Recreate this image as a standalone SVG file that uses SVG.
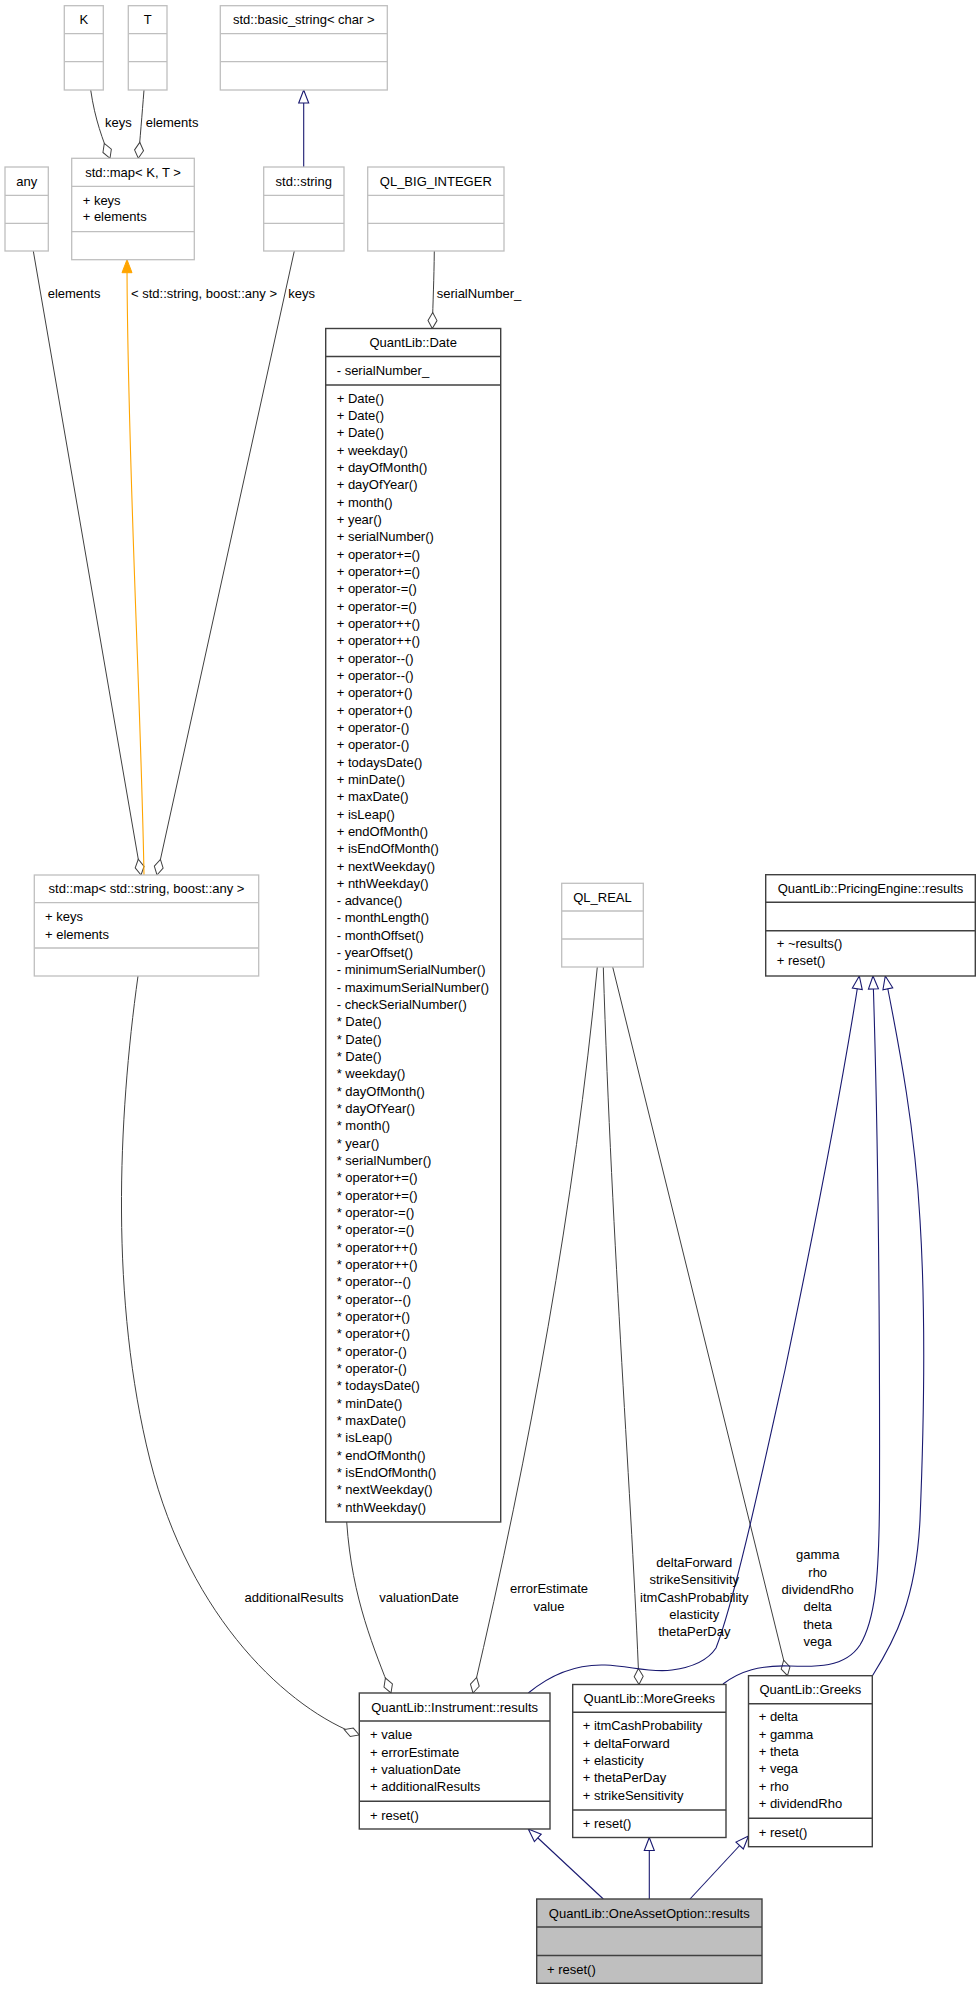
<svg xmlns="http://www.w3.org/2000/svg" width="980" height="1989" viewBox="0 0 980 1989">
  <style>
    text { font-family: "Liberation Sans", Arial, sans-serif; font-size: 13px; fill: #000; }
    .c { text-anchor: middle; }
    .ext rect { fill: #fff; stroke: #bfbfbf; stroke-width: 1.3; }
    .ext line { stroke: #bfbfbf; stroke-width: 1.3; }
    .ql rect { fill: #fff; stroke: #404040; stroke-width: 1.4; }
    .ql line { stroke: #404040; stroke-width: 1.4; }
    .ql.cur rect { fill: #bfbfbf; }
    .use { fill: none; stroke: #404040; stroke-width: 1; marker-end: url(#diamond); }
    .inh { fill: none; stroke: #191970; stroke-width: 1.1; marker-end: url(#hollow); }
    .tpl { fill: none; stroke: #ffa500; stroke-width: 1.1; marker-end: url(#filled); }
  </style>
  <defs>
    <marker id="hollow" markerUnits="userSpaceOnUse" markerWidth="16" markerHeight="14" viewBox="-14 -7 16 14" refX="0" refY="0" orient="auto">
      <path d="M0,0 L-13,-5 L-13,5 Z" fill="#fff" stroke="#191970" stroke-width="1.1"/>
    </marker>
    <marker id="filled" markerUnits="userSpaceOnUse" markerWidth="16" markerHeight="14" viewBox="-14 -7 16 14" refX="0" refY="0" orient="auto">
      <path d="M0,0 L-13,-5 L-13,5 Z" fill="#ffa500" stroke="#ffa500" stroke-width="1"/>
    </marker>
    <marker id="diamond" markerUnits="userSpaceOnUse" markerWidth="20" markerHeight="12" viewBox="-18 -6 20 12" refX="0" refY="0" orient="auto">
      <path d="M0,0 L-8,-4.5 L-16,0 L-8,4.5 Z" fill="#fff" stroke="#404040" stroke-width="1"/>
    </marker>
  </defs>

  <rect x="0" y="0" width="980" height="1989" fill="#fff"/>

  <!-- connectors -->
  <g id="edges">
    <path class="use" d="M90.7,90 C95,120 103,140 110,158.3"/>
    <path class="use" d="M144,90 C142,115 140,140 138.3,158.3"/>
    <path class="inh" d="M303.7,167 L303.7,90"/>
    <path class="use" d="M33.3,251 L141,875"/>
    <path class="tpl" d="M144,875 C141,700 127,450 127,259.7"/>
    <path class="use" d="M294.3,251 L157,875"/>
    <path class="use" d="M434.3,251 C434,280 433,300 432.3,328.5"/>
    <path class="use" d="M138,976 C118,1120 110,1300 150,1460 C190,1620 290,1710 359.3,1735"/>
    <path class="use" d="M346.7,1522 C352,1600 375,1650 391,1693"/>
    <path class="use" d="M597.3,967 C575,1200 530,1450 473,1693"/>
    <path class="use" d="M603.3,967 C612,1250 632,1500 639,1684.5"/>
    <path class="use" d="M612.7,967 L787.5,1675.7"/>
    <path class="inh" d="M528.3,1693 C550,1675 575,1664 605,1665 C630,1666 650,1673 672,1670 C695,1667 708,1660 716,1648 C735,1600 765,1460 785,1370 C810,1250 840,1100 859.3,976"/>
    <path class="inh" d="M723,1684 C740,1671 760,1665 790,1666 C815,1667 845,1668 860,1645 C875,1620 879,1580 879.5,1500 C880,1300 877,1100 873,976"/>
    <path class="inh" d="M872.3,1676 C895,1640 916,1600 920,1520 C925,1400 925,1300 920,1220 C915,1130 900,1050 885.3,976"/>
    <path class="inh" d="M603.3,1899 L528.3,1829"/>
    <path class="inh" d="M649.3,1899 L649.3,1837.5"/>
    <path class="inh" d="M690,1899 L748.5,1836"/>

    <text x="105" y="127.3">keys</text>
    <text x="145.7" y="127.3">elements</text>
    <text x="47.7" y="297.9">elements</text>
    <text x="131" y="297.9">&lt; std::string, boost::any &gt;</text>
    <text x="288.3" y="297.9">keys</text>
    <text x="436.7" y="297.9">serialNumber_</text>
    <text class="c" x="294" y="1601.9">additionalResults</text>
    <text class="c" x="419" y="1601.9">valuationDate</text>
    <text class="c" x="549" y="1592.9">errorEstimate</text>
    <text class="c" x="549" y="1610.9">value</text>
    <text class="c" x="694.3" y="1566.9">deltaForward</text>
    <text class="c" x="694.3" y="1584.3">strikeSensitivity</text>
    <text class="c" x="694.3" y="1601.6">itmCashProbability</text>
    <text class="c" x="694.3" y="1619">elasticity</text>
    <text class="c" x="694.3" y="1636.3">thetaPerDay</text>
    <text class="c" x="817.7" y="1559.3">gamma</text>
    <text class="c" x="817.7" y="1576.6">rho</text>
    <text class="c" x="817.7" y="1594">dividendRho</text>
    <text class="c" x="817.7" y="1611.3">delta</text>
    <text class="c" x="817.7" y="1628.6">theta</text>
    <text class="c" x="817.7" y="1646">vega</text>
  </g>

  <g id="node-K" class="ext">
    <rect x="64.3" y="5.7" width="39" height="84.3"/>
    <line x1="64.3" y1="33.7" x2="103.3" y2="33.7"/>
    <line x1="64.3" y1="61.7" x2="103.3" y2="61.7"/>
    <text class="c" x="83.8" y="23.5">K</text>
  </g>

  <g id="node-T" class="ext">
    <rect x="128.3" y="5.7" width="38.7" height="84.3"/>
    <line x1="128.3" y1="33.7" x2="167" y2="33.7"/>
    <line x1="128.3" y1="61.7" x2="167" y2="61.7"/>
    <text class="c" x="147.7" y="23.5">T</text>
  </g>

  <g id="node-basic-string" class="ext">
    <rect x="220.3" y="5.7" width="167" height="84.3"/>
    <line x1="220.3" y1="33.7" x2="387.3" y2="33.7"/>
    <line x1="220.3" y1="61.7" x2="387.3" y2="61.7"/>
    <text class="c" x="303.8" y="23.5">std::basic_string&lt; char &gt;</text>
  </g>

  <g id="node-any" class="ext">
    <rect x="5" y="167" width="43.3" height="84"/>
    <line x1="5" y1="195.3" x2="48.3" y2="195.3"/>
    <line x1="5" y1="223.3" x2="48.3" y2="223.3"/>
    <text class="c" x="26.7" y="185.8">any</text>
  </g>

  <g id="node-map-KT" class="ext">
    <rect x="71.7" y="158.3" width="122.6" height="101.4"/>
    <line x1="71.7" y1="186.3" x2="194.3" y2="186.3"/>
    <line x1="71.7" y1="231.7" x2="194.3" y2="231.7"/>
    <text class="c" x="133" y="176.6">std::map&lt; K, T &gt;</text>
    <text x="82.7" y="204.6">+ keys</text>
    <text x="82.7" y="221.3">+ elements</text>
  </g>

  <g id="node-string" class="ext">
    <rect x="263.7" y="167" width="80.3" height="84"/>
    <line x1="263.7" y1="195.3" x2="344" y2="195.3"/>
    <line x1="263.7" y1="223.3" x2="344" y2="223.3"/>
    <text class="c" x="303.8" y="185.8">std::string</text>
  </g>

  <g id="node-big-integer" class="ext">
    <rect x="367.7" y="167" width="136.3" height="84"/>
    <line x1="367.7" y1="195.3" x2="504" y2="195.3"/>
    <line x1="367.7" y1="223.3" x2="504" y2="223.3"/>
    <text class="c" x="435.8" y="185.8">QL_BIG_INTEGER</text>
  </g>

  <g id="node-date" class="ql">
    <rect x="325.7" y="328.5" width="175" height="1193.5"/>
    <line x1="325.7" y1="356.5" x2="500.7" y2="356.5"/>
    <line x1="325.7" y1="385" x2="500.7" y2="385"/>
    <text class="c" x="413.2" y="346.6">QuantLib::Date</text>
    <text x="336.7" y="374.6">- serialNumber_</text>
    <text x="336.7" y="402.6"><tspan x="336.7" dy="0">+ Date()</tspan><tspan x="336.7" dy="17.33">+ Date()</tspan><tspan x="336.7" dy="17.33">+ Date()</tspan><tspan x="336.7" dy="17.33">+ weekday()</tspan><tspan x="336.7" dy="17.33">+ dayOfMonth()</tspan><tspan x="336.7" dy="17.33">+ dayOfYear()</tspan><tspan x="336.7" dy="17.33">+ month()</tspan><tspan x="336.7" dy="17.33">+ year()</tspan><tspan x="336.7" dy="17.33">+ serialNumber()</tspan><tspan x="336.7" dy="17.33">+ operator+=()</tspan><tspan x="336.7" dy="17.33">+ operator+=()</tspan><tspan x="336.7" dy="17.33">+ operator-=()</tspan><tspan x="336.7" dy="17.33">+ operator-=()</tspan><tspan x="336.7" dy="17.33">+ operator++()</tspan><tspan x="336.7" dy="17.33">+ operator++()</tspan><tspan x="336.7" dy="17.33">+ operator--()</tspan><tspan x="336.7" dy="17.33">+ operator--()</tspan><tspan x="336.7" dy="17.33">+ operator+()</tspan><tspan x="336.7" dy="17.33">+ operator+()</tspan><tspan x="336.7" dy="17.33">+ operator-()</tspan><tspan x="336.7" dy="17.33">+ operator-()</tspan><tspan x="336.7" dy="17.33">+ todaysDate()</tspan><tspan x="336.7" dy="17.33">+ minDate()</tspan><tspan x="336.7" dy="17.33">+ maxDate()</tspan><tspan x="336.7" dy="17.33">+ isLeap()</tspan><tspan x="336.7" dy="17.33">+ endOfMonth()</tspan><tspan x="336.7" dy="17.33">+ isEndOfMonth()</tspan><tspan x="336.7" dy="17.33">+ nextWeekday()</tspan><tspan x="336.7" dy="17.33">+ nthWeekday()</tspan><tspan x="336.7" dy="17.33">- advance()</tspan><tspan x="336.7" dy="17.33">- monthLength()</tspan><tspan x="336.7" dy="17.33">- monthOffset()</tspan><tspan x="336.7" dy="17.33">- yearOffset()</tspan><tspan x="336.7" dy="17.33">- minimumSerialNumber()</tspan><tspan x="336.7" dy="17.33">- maximumSerialNumber()</tspan><tspan x="336.7" dy="17.33">- checkSerialNumber()</tspan><tspan x="336.7" dy="17.33">* Date()</tspan><tspan x="336.7" dy="17.33">* Date()</tspan><tspan x="336.7" dy="17.33">* Date()</tspan><tspan x="336.7" dy="17.33">* weekday()</tspan><tspan x="336.7" dy="17.33">* dayOfMonth()</tspan><tspan x="336.7" dy="17.33">* dayOfYear()</tspan><tspan x="336.7" dy="17.33">* month()</tspan><tspan x="336.7" dy="17.33">* year()</tspan><tspan x="336.7" dy="17.33">* serialNumber()</tspan><tspan x="336.7" dy="17.33">* operator+=()</tspan><tspan x="336.7" dy="17.33">* operator+=()</tspan><tspan x="336.7" dy="17.33">* operator-=()</tspan><tspan x="336.7" dy="17.33">* operator-=()</tspan><tspan x="336.7" dy="17.33">* operator++()</tspan><tspan x="336.7" dy="17.33">* operator++()</tspan><tspan x="336.7" dy="17.33">* operator--()</tspan><tspan x="336.7" dy="17.33">* operator--()</tspan><tspan x="336.7" dy="17.33">* operator+()</tspan><tspan x="336.7" dy="17.33">* operator+()</tspan><tspan x="336.7" dy="17.33">* operator-()</tspan><tspan x="336.7" dy="17.33">* operator-()</tspan><tspan x="336.7" dy="17.33">* todaysDate()</tspan><tspan x="336.7" dy="17.33">* minDate()</tspan><tspan x="336.7" dy="17.33">* maxDate()</tspan><tspan x="336.7" dy="17.33">* isLeap()</tspan><tspan x="336.7" dy="17.33">* endOfMonth()</tspan><tspan x="336.7" dy="17.33">* isEndOfMonth()</tspan><tspan x="336.7" dy="17.33">* nextWeekday()</tspan><tspan x="336.7" dy="17.33">* nthWeekday()</tspan></text>
  </g>

  <g id="node-map-string-any" class="ext">
    <rect x="34.3" y="875" width="224.4" height="101"/>
    <line x1="34.3" y1="902.6" x2="258.7" y2="902.6"/>
    <line x1="34.3" y1="948" x2="258.7" y2="948"/>
    <text class="c" x="146.5" y="893.4">std::map&lt; std::string, boost::any &gt;</text>
    <text x="45" y="921.3">+ keys</text>
    <text x="45" y="938.5">+ elements</text>
  </g>

  <g id="node-real" class="ext">
    <rect x="561.7" y="883.3" width="81.6" height="83.7"/>
    <line x1="561.7" y1="911" x2="643.3" y2="911"/>
    <line x1="561.7" y1="939" x2="643.3" y2="939"/>
    <text class="c" x="602.5" y="901.8">QL_REAL</text>
  </g>

  <g id="node-pricing-engine-results" class="ql">
    <rect x="765.7" y="874.7" width="209.6" height="101.3"/>
    <line x1="765.7" y1="902.3" x2="975.3" y2="902.3"/>
    <line x1="765.7" y1="930.7" x2="975.3" y2="930.7"/>
    <text class="c" x="870.5" y="893.1">QuantLib::PricingEngine::results</text>
    <text x="776.7" y="947.9">+ ~results()</text>
    <text x="776.7" y="964.9">+ reset()</text>
  </g>

  <g id="node-instrument-results" class="ql">
    <rect x="359.3" y="1693" width="190.7" height="136"/>
    <line x1="359.3" y1="1721" x2="550" y2="1721"/>
    <line x1="359.3" y1="1801.3" x2="550" y2="1801.3"/>
    <text class="c" x="454.6" y="1711.6">QuantLib::Instrument::results</text>
    <text x="370" y="1739.3">+ value</text>
    <text x="370" y="1756.6">+ errorEstimate</text>
    <text x="370" y="1773.9">+ valuationDate</text>
    <text x="370" y="1791.2">+ additionalResults</text>
    <text x="370" y="1819.6">+ reset()</text>
  </g>

  <g id="node-more-greeks" class="ql">
    <rect x="572.7" y="1684.5" width="153.3" height="153"/>
    <line x1="572.7" y1="1712.3" x2="726" y2="1712.3"/>
    <line x1="572.7" y1="1810" x2="726" y2="1810"/>
    <text class="c" x="649.3" y="1703">QuantLib::MoreGreeks</text>
    <text x="582.7" y="1730.3">+ itmCashProbability</text>
    <text x="582.7" y="1747.6">+ deltaForward</text>
    <text x="582.7" y="1764.9">+ elasticity</text>
    <text x="582.7" y="1782.2">+ thetaPerDay</text>
    <text x="582.7" y="1799.5">+ strikeSensitivity</text>
    <text x="582.7" y="1828.1">+ reset()</text>
  </g>

  <g id="node-greeks" class="ql">
    <rect x="748.5" y="1675.7" width="123.8" height="171"/>
    <line x1="748.5" y1="1703.7" x2="872.3" y2="1703.7"/>
    <line x1="748.5" y1="1818.3" x2="872.3" y2="1818.3"/>
    <text class="c" x="810.4" y="1694.3">QuantLib::Greeks</text>
    <text x="758.7" y="1721.3">+ delta</text>
    <text x="758.7" y="1738.6">+ gamma</text>
    <text x="758.7" y="1755.9">+ theta</text>
    <text x="758.7" y="1773.2">+ vega</text>
    <text x="758.7" y="1790.5">+ rho</text>
    <text x="758.7" y="1807.8">+ dividendRho</text>
    <text x="758.7" y="1836.6">+ reset()</text>
  </g>

  <g id="node-one-asset-option-results" class="ql cur">
    <rect x="536.7" y="1899" width="225.3" height="84.3"/>
    <line x1="536.7" y1="1927" x2="762" y2="1927"/>
    <line x1="536.7" y1="1955.5" x2="762" y2="1955.5"/>
    <text class="c" x="649.3" y="1917.6">QuantLib::OneAssetOption::results</text>
    <text x="547" y="1974.1">+ reset()</text>
  </g>
</svg>
